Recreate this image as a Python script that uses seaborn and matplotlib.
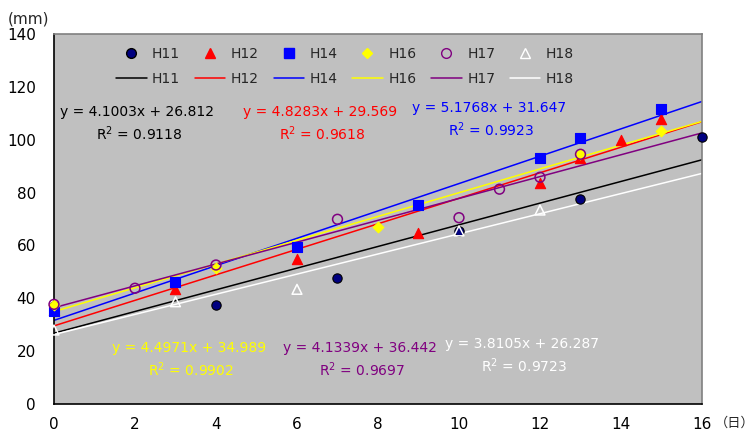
import numpy as np
import pandas as pd
import matplotlib
matplotlib.use("Agg")
import matplotlib.pyplot as plt
import seaborn as sns
from matplotlib.lines import Line2D

# データ (読み取り値)
series = ['H11', 'H12', 'H14', 'H16', 'H17', 'H18']
x_h11 = [0, 4, 7, 10, 13, 16]
y_h11 = [37.0, 37.5, 47.7, 65.5, 77.6, 101.0]
x_h12 = [0, 3, 6, 9, 12, 13, 14, 15]
y_h12 = [35.5, 43.5, 55.0, 64.6, 83.5, 93.0, 100.0, 107.8]
x_h14 = [0, 3, 6, 9, 12, 13, 15]
y_h14 = [35.2, 46.3, 59.4, 75.3, 93.0, 100.8, 111.6]
x_h16 = [0, 4, 8, 13, 15]
y_h16 = [37.4, 51.3, 66.9, 94.5, 103.4]
x_h17 = [0, 2, 4, 7, 10, 11, 12, 13]
y_h17 = [37.7, 43.8, 52.6, 69.9, 70.5, 81.3, 85.8, 94.5]
x_h18 = [0, 3, 6, 10, 12]
y_h18 = [28.0, 38.7, 43.4, 65.5, 73.4]

# 近似直線
slopes = [4.1003, 4.8283, 5.1768, 4.4971, 4.1339, 3.8105]
intercepts = [26.812, 29.569, 31.647, 34.989, 36.442, 26.287]
r2 = ['0.9118', '0.9618', '0.9923', '0.9902', '0.9697', '0.9723']

x_ticks = list(range(0, 17, 2))
y_ticks = list(range(0, 141, 20))

xs = [x_h11, x_h12, x_h14, x_h16, x_h17, x_h18]
ys = [y_h11, y_h12, y_h14, y_h16, y_h17, y_h18]

colors = ['#000080', '#FF0000', '#0000FF', '#FFFF00', '#800080', '#FFFFFF']
line_colors = ['#000000', '#FF0000', '#0000FF', '#FFFF00', '#800080', '#FFFFFF']
markers = ['o', '^', 's', 'D', 'o', '^']
msizes = [45, 55, 45, 30, 50, 50]
hollow = [False, False, False, False, True, True]
edges = ['#000000', '#FF0000', '#0000FF', '#FFFF00', '#800080', '#FFFFFF']

sns.set_style("white")
plt.rcParams['font.family'] = ['DejaVu Sans', 'Noto Sans CJK JP']

fig = plt.figure(figsize=(7.55, 4.34), dpi=100)
ax = fig.add_axes([0.0715, 0.0691, 0.8583, 0.8525])
ax.set_facecolor('#C0C0C0')

line_x = np.array([0, 16])
for i, name in enumerate(series):
    df_line = pd.DataFrame({'x': line_x, 'y': slopes[i] * line_x + intercepts[i]})
    sns.lineplot(data=df_line, x='x', y='y', color=line_colors[i], linewidth=1.1, ax=ax)

for i, name in enumerate(series):
    df = pd.DataFrame({'x': xs[i], 'y': ys[i]})
    if hollow[i]:
        sns.scatterplot(data=df, x='x', y='y', marker=markers[i], s=msizes[i],
                        color='none', edgecolor=edges[i], linewidth=1.1, ax=ax,
                        zorder=3, clip_on=False)
    else:
        sns.scatterplot(data=df, x='x', y='y', marker=markers[i], s=msizes[i],
                        color=colors[i], edgecolor=edges[i], linewidth=0.8, ax=ax,
                        zorder=3, clip_on=False)

ax.set_xlim(0, 16)
ax.set_ylim(0, 140)
ax.set_xticks(x_ticks)
ax.set_yticks(y_ticks)
ax.set_xlabel('')
ax.set_ylabel('')
ax.tick_params(axis='both', direction='in', length=5, width=1, colors='black', labelsize=11)
ax.tick_params(axis='x', pad=9)
ax.tick_params(axis='y', pad=13)
for s in ['left', 'bottom']:
    ax.spines[s].set_color('black')
    ax.spines[s].set_linewidth(1.2)
for s in ['top', 'right']:
    ax.spines[s].set_color('#808080')
    ax.spines[s].set_linewidth(1.2)

# 凡例 (上段: マーカー, 下段: 線)
handles = []
labels = []
for i, name in enumerate(series):
    handles.append(Line2D([], [], linestyle='none', marker=markers[i], markersize=7 if markers[i] != 'D' else 5.5,
                          markerfacecolor='none' if hollow[i] else colors[i],
                          markeredgecolor=edges[i], markeredgewidth=1.0))
    labels.append(name)
    handles.append(Line2D([], [], color=line_colors[i], linewidth=1.1))
    labels.append(name)
ax.legend(handles, labels, ncol=6, loc='upper left', bbox_to_anchor=(0.0957, 0.964),
          frameon=False, fontsize=10, handlelength=2.2, handletextpad=0.4,
          columnspacing=1.05, labelspacing=0.75, borderpad=0, borderaxespad=0)

# 回帰式
eq_pos = [(2.05, 110.5), (6.57, 110.5), (10.74, 112.0), (3.33, 21.2), (7.56, 21.2), (11.56, 22.7)]
for i, name in enumerate(series):
    ex, ey = eq_pos[i]
    ax.text(ex, ey, f'y = {slopes[i]:.4f}x + {intercepts[i]:.3f}', color=line_colors[i],
            fontsize=10, ha='center', va='center')
    ax.text(ex + 0.05, ey - 8.3, f'R$^2$ = {r2[i]}', color=line_colors[i],
            fontsize=10, ha='center', va='center')

fig.text(28 / 755, 1 - 19 / 434, '(mm)', fontsize=11, ha='center', va='center')
fig.text(735 / 755, 1 - 423 / 434, '（日）', fontsize=9.5, ha='center', va='center',
         family=['Noto Sans CJK JP', 'DejaVu Sans'])

fig.savefig('out.png', dpi=100)
